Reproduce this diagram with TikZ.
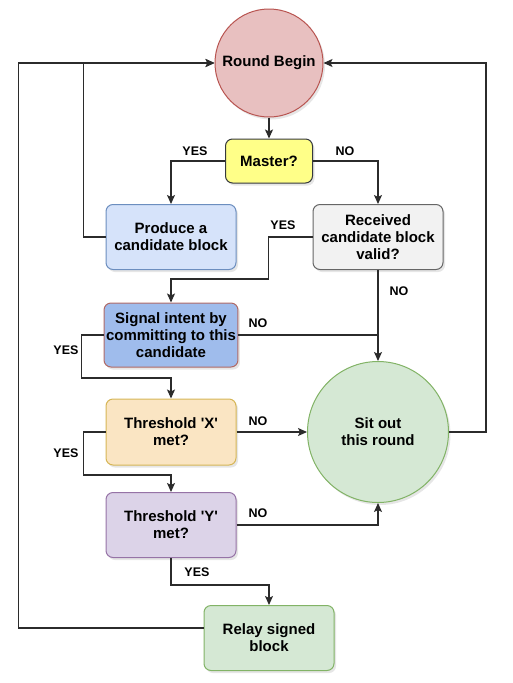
\documentclass[tikz,border=0pt]{standalone}
\usepackage{fontspec}
\setmainfont{Liberation Sans}
\usetikzlibrary{arrows.meta,shadows,calc}
\definecolor{rbfill}{HTML}{E8C0C0}\definecolor{rbdraw}{HTML}{B85450}
\definecolor{mafill}{HTML}{FFFF88}\definecolor{madraw}{HTML}{36393D}
\definecolor{prfill}{HTML}{D6E3FA}\definecolor{prdraw}{HTML}{6C8EBF}
\definecolor{refill}{HTML}{F2F2F2}\definecolor{redraw}{HTML}{666666}
\definecolor{sgfill}{HTML}{9FBCEC}\definecolor{sgdraw}{HTML}{B06A66}
\definecolor{txfill}{HTML}{FAE5C3}\definecolor{txdraw}{HTML}{D6B656}
\definecolor{tyfill}{HTML}{DCD3E8}\definecolor{tydraw}{HTML}{9673A6}
\definecolor{gnfill}{HTML}{D5E8D4}\definecolor{gndraw}{HTML}{82B366}
\definecolor{linec}{HTML}{2B2B2B}
\tikzset{
  base/.style={font=\fontsize{15}{17}\selectfont\bfseries, align=center, line width=1pt, inner sep=2pt,
    drop shadow={opacity=0.2, shadow xshift=2pt, shadow yshift=-2.5pt}},
  boxn/.style={base, rectangle, rounded corners=7pt, minimum width=130pt, minimum height=65pt},
  circ/.style={base, circle},
  arr/.style={draw=linec, line width=1.2pt, -{Stealth[length=9pt,width=8pt,inset=2pt]}},
  ln/.style={draw=linec, line width=1.2pt},
  lab/.style={font=\fontsize{12.5}{14}\selectfont\bfseries, text=black, inner sep=0pt}
}
\begin{document}
\begin{tikzpicture}[x=1pt,y=-1pt]
\useasboundingbox (0,0) rectangle (513,683);
\node[circ, fill=rbfill, draw=rbdraw, minimum size=108pt] (rb) at (269,63) {Round Begin};
\node[boxn, fill=mafill, draw=madraw, minimum width=87pt, minimum height=44pt] (master) at (269,161) {Master?};
\node[boxn, fill=prfill, draw=prdraw] (prod) at (171,237) {Produce a\\candidate block};
\node[boxn, fill=refill, draw=redraw] (recv) at (378,237) {Received\\candidate block\\valid?};
\node[boxn, fill=sgfill, draw=sgdraw, minimum height=64pt] (sig) at (171,335) {Signal intent by\\committing to this\\candidate};
\node[boxn, fill=txfill, draw=txdraw, minimum height=66pt] (thx) at (171,432) {Threshold \textquotesingle X\textquotesingle\\met?};
\node[boxn, fill=tyfill, draw=tydraw] (thy) at (171,525) {Threshold \textquotesingle Y\textquotesingle\\met?};
\node[boxn, fill=gnfill, draw=gndraw] (relay) at (269,638) {Relay signed\\block};
\node[circ, fill=gnfill, draw=gndraw, minimum size=141pt] (sit) at (378,432) {Sit out\\this round};

\draw[arr] (rb) -- (master);
\draw[arr] (master.west) -| (prod.north);
\draw[arr] (master.east) -| (recv.north);
\draw[arr] (prod.west) -- ++(-22,0) |- (rb.west);
\draw[arr] (relay.west) ++(0,-10) -- ++(-185,0) |- (rb.west);
\draw[arr] (recv.west) -- ++(-44,0) -- ++(0,42) -| (sig.north);
\draw[arr] (recv.south) -- (sit.north);
\draw[ln] (sig.east) -- (sig.east -| recv.south);
\draw[arr] (sig.west) -- ++(-22,0) -- ++(0,43) -| (thx.north);
\draw[arr] (thx.east) -- (sit.west);
\draw[arr] (thx.west) -- ++(-22,0) -- ++(0,43) -| (thy.north);
\draw[arr] (thy.east) -| (sit.south);
\draw[arr] (thy.south) -- ++(0,27) -| (relay.north);
\draw[arr] (sit.east) -- ++(37,0) |- (rb.east);

\node[lab] (l1) at (195,151) {YES};
\node[lab] (l2) at (345,151) {NO};
\node[lab] (l3) at (283,225) {YES};
\node[lab] (l4) at (399,291) {NO};
\node[lab] (l5) at (258,323) {NO};
\node[lab] (l6) at (66,350) {YES};
\node[lab] (l7) at (258,421) {NO};
\node[lab] (l8) at (66,453) {YES};
\node[lab] (l9) at (258,513) {NO};
\node[lab] (l10) at (197,572) {YES};
\end{tikzpicture}
\end{document}
